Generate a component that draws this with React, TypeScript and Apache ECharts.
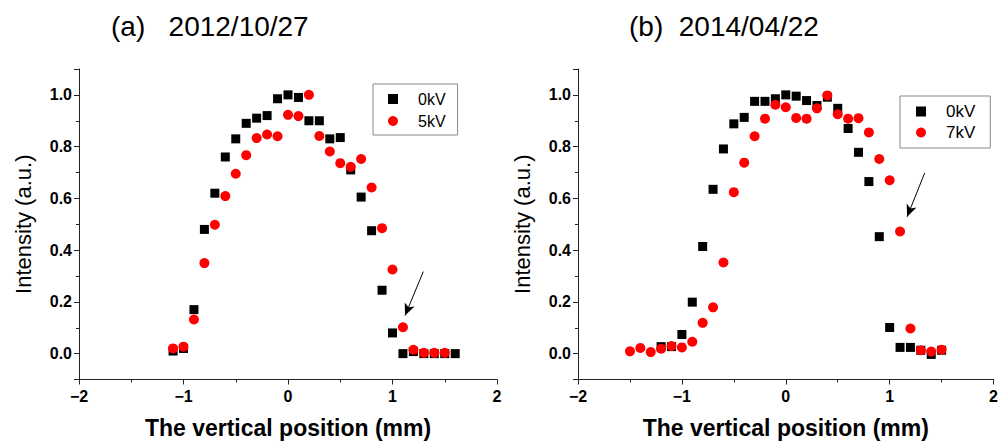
import React, { useEffect, useRef } from "react";
import * as echarts from "echarts";

// ---- data (a) 2012/10/27 ----
const xA0 = [-1.1, -1.0, -0.9, -0.8, -0.7, -0.6, -0.5, -0.4, -0.3, -0.2, -0.1, 0.0, 0.1, 0.2, 0.3, 0.4, 0.5, 0.6, 0.7, 0.8, 0.9, 1.0, 1.1, 1.2, 1.3, 1.4, 1.5, 1.6];
const yA0 = [0.01, 0.02, 0.17, 0.48, 0.62, 0.76, 0.83, 0.89, 0.91, 0.92, 0.985, 1.0, 0.99, 0.9, 0.9, 0.83, 0.835, 0.71, 0.605, 0.475, 0.245, 0.08, 0.0, 0.008, 0.0, 0.0, 0.0, 0.0];
const xA5 = [-1.1, -1.0, -0.9, -0.8, -0.7, -0.6, -0.5, -0.4, -0.3, -0.2, -0.1, 0.0, 0.1, 0.2, 0.3, 0.4, 0.5, 0.6, 0.7, 0.8, 0.9, 1.0, 1.1, 1.2, 1.3, 1.4, 1.5];
const yA5 = [0.02, 0.027, 0.132, 0.35, 0.498, 0.609, 0.695, 0.767, 0.833, 0.847, 0.84, 0.923, 0.918, 1.0, 0.841, 0.781, 0.736, 0.722, 0.752, 0.642, 0.485, 0.325, 0.102, 0.015, 0.003, 0.003, 0.003];

// ---- data (b) 2014/04/22 ----
const xB0 = [-1.2, -1.1, -1.0, -0.9, -0.8, -0.7, -0.6, -0.5, -0.4, -0.3, -0.2, -0.1, 0.0, 0.1, 0.2, 0.3, 0.4, 0.5, 0.6, 0.7, 0.8, 0.9, 1.0, 1.1, 1.2, 1.3, 1.4, 1.5];
const yB0 = [0.027, 0.027, 0.074, 0.199, 0.414, 0.635, 0.791, 0.888, 0.913, 0.975, 0.975, 0.985, 1.0, 0.995, 0.978, 0.959, 0.991, 0.948, 0.87, 0.778, 0.665, 0.452, 0.101, 0.024, 0.024, 0.013, -0.003, 0.013];
const xB7 = [-1.5, -1.4, -1.3, -1.2, -1.1, -1.0, -0.9, -0.8, -0.7, -0.6, -0.5, -0.4, -0.3, -0.2, -0.1, 0.0, 0.1, 0.2, 0.3, 0.4, 0.5, 0.6, 0.7, 0.8, 0.9, 1.0, 1.1, 1.2, 1.3, 1.4, 1.5];
const yB7 = [0.009, 0.022, 0.006, 0.019, 0.029, 0.024, 0.046, 0.119, 0.179, 0.352, 0.624, 0.738, 0.84, 0.908, 0.962, 0.952, 0.911, 0.908, 0.948, 0.998, 0.925, 0.908, 0.91, 0.855, 0.752, 0.67, 0.472, 0.097, 0.013, 0.008, 0.015];

const titles = ["(a)   2012/10/27", "(b)  2014/04/22"];
const legendA = ["0kV", "5kV"];
const legendB = ["0kV", "7kV"];
const xName = "The vertical position (mm)";
const yName = "Intensity (a.u.)";

// arrow annotations in data coordinates [from, to]
const arrowA = [[1.295, 0.317], [1.12, 0.147]];
const arrowB = [[1.337, 0.698], [1.168, 0.529]];

const pairs = (xs: number[], ys: number[]) => xs.map((x, i) => [x, ys[i]]);
const FONT = "'Liberation Sans', Arial, sans-serif";

export default function App() {
  const ref = useRef<HTMLDivElement>(null);
  useEffect(() => {
    if (!ref.current) return;
    const chart = echarts.init(ref.current, undefined, { renderer: "svg" });

    const xAxis = (gridIndex: number) => ({
      type: "value",
      gridIndex,
      min: -2,
      max: 2,
      interval: 1,
      axisLine: { show: true, onZero: false, lineStyle: { color: "#222", width: 1 } },
      axisTick: { show: true, inside: false, length: 5, lineStyle: { color: "#222" } },
      minorTick: { show: true, splitNumber: 2, length: 3, lineStyle: { color: "#222" } },
      splitLine: { show: false },
      axisLabel: {
        margin: 9,
        fontSize: 16,
        fontWeight: "bold",
        fontFamily: FONT,
        color: "#000",
        formatter: (v: number) => (v < 0 ? "\u2212" + Math.abs(v) : String(v)),
      },
      name: xName,
      nameLocation: "middle",
      nameGap: 48,
      nameTextStyle: { fontSize: 23, fontWeight: "bold", fontFamily: FONT, color: "#000", verticalAlign: "middle" },
    });
    const yAxis = (gridIndex: number) => ({
      type: "value",
      gridIndex,
      min: -0.1,
      max: 1.1,
      splitNumber: 6,
      axisLine: { show: true, onZero: false, lineStyle: { color: "#222", width: 1 } },
      axisTick: { show: true, inside: false, length: 5, lineStyle: { color: "#222" } },
      minorTick: { show: true, splitNumber: 2, length: 3, lineStyle: { color: "#222" } },
      splitLine: { show: false },
      axisLabel: {
        margin: 7,
        fontSize: 16,
        fontWeight: "bold",
        fontFamily: FONT,
        color: "#000",
        showMinLabel: false,
        showMaxLabel: false,
        formatter: (v: number) => v.toFixed(1),
      },
      name: yName,
      nameLocation: "middle",
      nameGap: 56,
      nameTextStyle: { fontSize: 22, fontFamily: FONT, color: "#000", verticalAlign: "middle" },
    });

    const arrowMark = (a: number[][]) => ({
      silent: true,
      symbol: ["none", "arrow"],
      symbolSize: [8, 12],
      label: { show: false },
      lineStyle: { color: "#000", width: 1, type: "solid", opacity: 1 },
      emphasis: { disabled: true },
      data: [[{ coord: a[0] }, { coord: a[1] }]],
    });

    const legend = (names: string[], left: number, top: number, pad: number[], gap: number, fs: number) => ({
      data: names,
      orient: "vertical",
      left,
      top,
      padding: pad,
      itemGap: gap,
      itemWidth: 10,
      itemHeight: 10,
      borderColor: "#888",
      borderWidth: 1,
      selectedMode: false,
      textStyle: { fontSize: fs, lineHeight: fs, fontFamily: FONT, color: "#000", padding: [0, 0, 0, 15] },
    });

    const scatter = (name: string, gi: number, symbol: string, size: number, color: string, data: number[][], extra: any = {}) => ({
      name,
      type: "scatter",
      xAxisIndex: gi,
      yAxisIndex: gi,
      symbol,
      symbolSize: size,
      itemStyle: { color, opacity: 1 },
      emphasis: { disabled: true },
      data,
      ...extra,
    });

    chart.setOption({
      animation: false,
      backgroundColor: "#fff",
      title: [
        { text: titles[0], left: 111, top: 12, padding: 0, textStyle: { fontSize: 28, fontWeight: "normal", fontFamily: FONT, color: "#000" } },
        { text: titles[1], left: 629, top: 12, padding: 0, textStyle: { fontSize: 28, fontWeight: "normal", fontFamily: FONT, color: "#000" } },
      ],
      legend: [
        legend(legendA, 373, 84, [7, 12, 6, 15], 6, 16),
        legend(legendB, 900, 96, [7, 15, 7, 16], 4, 17),
      ],
      grid: [
        { left: 79, top: 69, width: 418, height: 311 },
        { left: 578, top: 69, width: 419, height: 311 },
      ],
      xAxis: [xAxis(0), xAxis(1)],
      yAxis: [yAxis(0), yAxis(1)],
      series: [
        scatter(legendA[0], 0, "rect", 9, "#000000", pairs(xA0, yA0)),
        scatter(legendA[1], 0, "circle", 10, "#ff0000", pairs(xA5, yA5), { markLine: arrowMark(arrowA) }),
        scatter(legendB[0], 1, "rect", 9, "#000000", pairs(xB0, yB0)),
        scatter(legendB[1], 1, "circle", 10, "#ff0000", pairs(xB7, yB7), { markLine: arrowMark(arrowB) }),
      ],
    });
    return () => chart.dispose();
  }, []);
  return <div ref={ref} style={{ position: "absolute", left: 0, top: 0, width: 1001, height: 444 }} />;
}
